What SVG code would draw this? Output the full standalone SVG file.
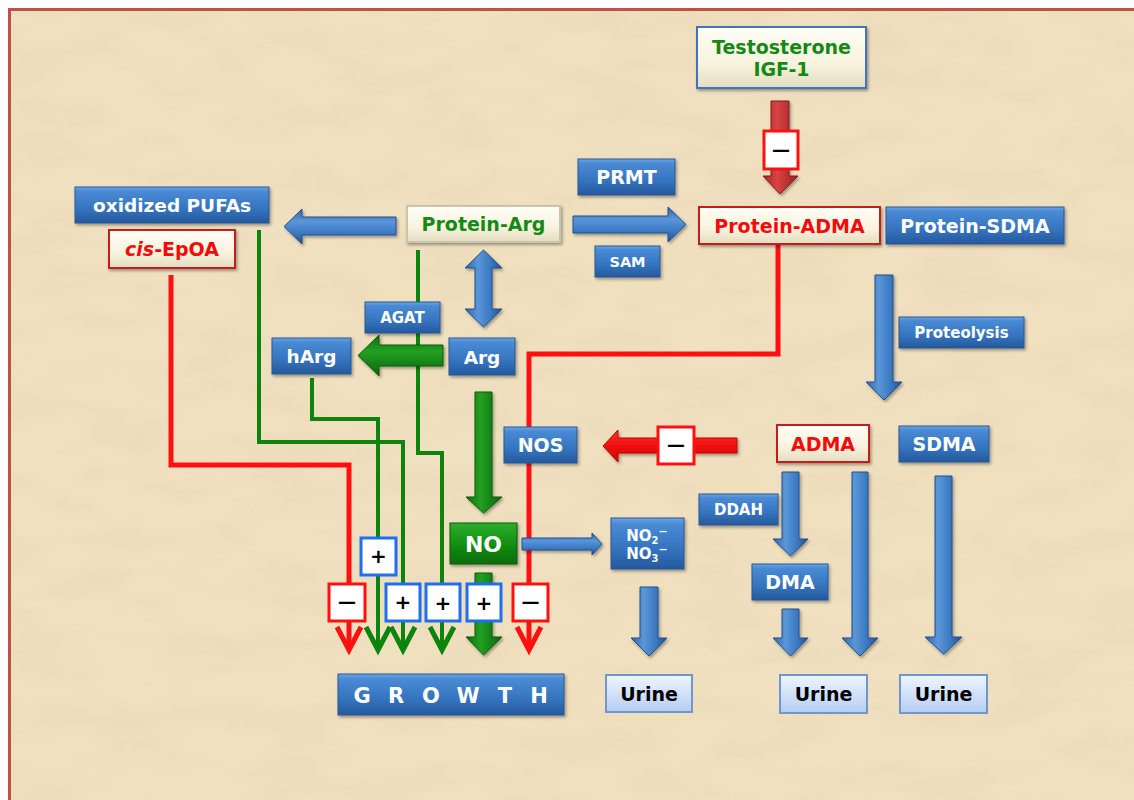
<svg xmlns="http://www.w3.org/2000/svg" width="1134" height="800" viewBox="0 0 1134 800">
<defs>
<linearGradient id="gBlue" x1="0" y1="0" x2="0" y2="1">
<stop offset="0" stop-color="#6aa6e6"/><stop offset="0.12" stop-color="#4a8ad4"/><stop offset="0.6" stop-color="#3574bf"/><stop offset="1" stop-color="#25599c"/>
</linearGradient>
<linearGradient id="gCream" x1="0" y1="0" x2="0" y2="1">
<stop offset="0" stop-color="#fffef6"/><stop offset="0.6" stop-color="#f8f3df"/><stop offset="1" stop-color="#e4dcc0"/>
</linearGradient>
<linearGradient id="gGreenBox" x1="0" y1="0" x2="0" y2="1">
<stop offset="0" stop-color="#2cae2c"/><stop offset="0.5" stop-color="#139013"/><stop offset="1" stop-color="#0a6c0a"/>
</linearGradient>
<linearGradient id="gUrine" x1="0" y1="0" x2="0" y2="1">
<stop offset="0" stop-color="#f0f5ff"/><stop offset="1" stop-color="#b5cdf2"/>
</linearGradient>
<linearGradient id="gArrV" x1="0" y1="0" x2="1" y2="0">
<stop offset="0" stop-color="#2f66ab"/><stop offset="0.35" stop-color="#5a96d8"/><stop offset="0.7" stop-color="#3a78c2"/><stop offset="1" stop-color="#234f8c"/>
</linearGradient>
<linearGradient id="gArrH" x1="0" y1="0" x2="0" y2="1">
<stop offset="0" stop-color="#2f66ab"/><stop offset="0.35" stop-color="#5a96d8"/><stop offset="0.7" stop-color="#3a78c2"/><stop offset="1" stop-color="#234f8c"/>
</linearGradient>
<linearGradient id="gGrV" x1="0" y1="0" x2="1" y2="0">
<stop offset="0" stop-color="#0b6e0b"/><stop offset="0.4" stop-color="#23a023"/><stop offset="1" stop-color="#0a640a"/>
</linearGradient>
<linearGradient id="gGrH" x1="0" y1="0" x2="0" y2="1">
<stop offset="0" stop-color="#0b6e0b"/><stop offset="0.4" stop-color="#23a023"/><stop offset="1" stop-color="#0a640a"/>
</linearGradient>
<linearGradient id="gRedV" x1="0" y1="0" x2="1" y2="0">
<stop offset="0" stop-color="#a82424"/><stop offset="0.4" stop-color="#d84444"/><stop offset="1" stop-color="#962020"/>
</linearGradient>
<linearGradient id="gRedH" x1="0" y1="0" x2="0" y2="1">
<stop offset="0" stop-color="#ff3030"/><stop offset="0.5" stop-color="#f01010"/><stop offset="1" stop-color="#c80808"/>
</linearGradient>
<filter id="sh" x="-10%" y="-15%" width="125%" height="150%">
<feDropShadow dx="1.5" dy="2" stdDeviation="1.5" flood-color="#000" flood-opacity="0.35"/>
</filter>
<filter id="paper" x="0" y="0" width="100%" height="100%">
<feTurbulence type="fractalNoise" baseFrequency="0.012 0.03" numOctaves="4" seed="7"/>
<feColorMatrix type="matrix" values="0 0 0 0 0.80  0 0 0 0 0.66  0 0 0 0 0.44  1.0 0 0 0 -0.3"/>
</filter>
<style>
.bb{fill:url(#gBlue);stroke:#2a5894;stroke-width:1;filter:url(#sh)}
.cb{fill:url(#gCream);filter:url(#sh)}
.ub{fill:url(#gUrine);stroke:#6f97cc;stroke-width:2}
.wt{font-family:"DejaVu Sans","Verdana",sans-serif;font-weight:bold;fill:#fff;text-anchor:middle}
.gt{font-family:"DejaVu Sans","Verdana",sans-serif;font-weight:bold;fill:#138a13;text-anchor:middle}
.rt{font-family:"DejaVu Sans","Verdana",sans-serif;font-weight:bold;fill:#f50a0a;text-anchor:middle}
.kt{font-family:"DejaVu Sans","Verdana",sans-serif;font-weight:bold;fill:#000;text-anchor:middle}
.gl{fill:none;stroke:#0c850c;stroke-width:4;stroke-linejoin:miter}
.rl{fill:none;stroke:#ff1010;stroke-width:5;stroke-linejoin:miter}
.gh{fill:none;stroke:#0c850c;stroke-width:5;stroke-linejoin:miter}
.rh{fill:none;stroke:#ff1010;stroke-width:5;stroke-linejoin:miter}
.av{fill:url(#gArrV);stroke:#22518f;stroke-width:1;filter:url(#sh)}
.ah{fill:url(#gArrH);stroke:#22518f;stroke-width:1;filter:url(#sh)}
.plus{fill:#fff;stroke:#1f6ff0;stroke-width:3}
.minus{fill:#fff;stroke:#ff1010;stroke-width:3}
.sg{font-family:"DejaVu Sans",sans-serif;font-weight:bold;fill:#000;text-anchor:middle;font-size:20px}
.sm{font-family:"DejaVu Sans",sans-serif;font-weight:bold;fill:#000;text-anchor:middle;font-size:18px}
</style>
</defs>

<rect x="0" y="0" width="1134" height="800" fill="#ffffff"/>
<rect x="8" y="8" width="1140" height="800" fill="#f0e1c1"/>
<rect x="8" y="8" width="1140" height="800" filter="url(#paper)" opacity="0.75"/>
<path d="M9.5,800 V9.5 H1134" fill="none" stroke="#c0504d" stroke-width="3"/>

<g id="connectors">
<polyline class="rl" points="171,275 171,465 349,465 349,648"/>
<polyline class="rl" points="778,245 778,354 529,354 529,648"/>
<polyline class="gl" points="259,230 259,442 403,442 403,648"/>
<polyline class="gl" points="312,378 312,419 378,419 378,648"/>
<polyline class="gl" points="418,250 418,453 442,453 442,648"/>
<polyline class="rh" points="337,627 349,650 361,627"/>
<polyline class="rh" points="517,627 529,650 541,627"/>
<polyline class="gh" points="366,627 378,650 390,627"/>
<polyline class="gh" points="391,627 403,650 415,627"/>
<polyline class="gh" points="430,627 442,650 454,627"/>

<path class="ah" d="M573,216 H668 V207 L686,224.5 L668,242 V233 H573 Z"/>
<path class="ah" d="M396,217 H302 V209 L284,226.5 L302,244 V235 H396 Z"/>
<path class="av" d="M483.5,250 L502,268 H492 V309 H502 L483.5,327 L465,309 H475 V268 H465 Z"/>
<path d="M443,345 H379 V335 L358,355.5 L379,376 V366 H443 Z" fill="url(#gGrH)" stroke="#0a5e0a" stroke-width="1" filter="url(#sh)"/>
<path d="M475,392 H492 V497 H502 L483.5,513 L466,497 H475 Z" fill="url(#gGrV)" stroke="#0a5e0a" stroke-width="1" filter="url(#sh)"/>
<path d="M475,573 H492 V637 H502 L483.5,655 L466,637 H475 Z" fill="url(#gGrV)" stroke="#0a5e0a" stroke-width="1" filter="url(#sh)"/>
<path d="M737,438 H618 V430 L603,446 L618,462 V453 H737 Z" fill="url(#gRedH)" stroke="#c80000" stroke-width="1" filter="url(#sh)"/>
<path d="M771,101 H789 V176 H798 L780,194 L763,176 H771 Z" fill="url(#gRedV)" stroke="#8a1a1a" stroke-width="1" filter="url(#sh)"/>
<path class="ah" d="M522,538 H592 V533 L602,544 L592,555 V550 H522 Z"/>
<path class="av" d="M640,587 H658 V638 H667 L649,656 L631,638 H640 Z"/>
<path class="av" d="M782,472 H799 V539 H808 L790.5,556 L773,539 H782 Z"/>
<path class="av" d="M782,609 H799 V638 H808 L790.5,656 L773,638 H782 Z"/>
<path class="av" d="M852,472 H868 V638 H878 L860,656 L842,638 H852 Z"/>
<path class="av" d="M935,476 H952 V637 H962 L943.5,654 L925,637 H935 Z"/>
<path class="av" d="M875,275 H893 V382 H902 L884,400 L866,382 H875 Z"/>

<g id="signs">
<rect class="minus" x="764" y="131" width="34" height="38"/>
<text class="sm" x="781" y="156">—</text>
<rect class="minus" x="658" y="427" width="36" height="37"/>
<text class="sm" x="676" y="451">—</text>
<rect class="minus" x="329" y="584" width="36" height="37"/>
<text class="sm" x="347" y="608">—</text>
<rect class="minus" x="513" y="584" width="35" height="37"/>
<text class="sm" x="530.5" y="608">—</text>
<rect class="plus" x="361" y="538" width="35" height="37"/>
<text class="sg" x="378.5" y="563">+</text>
<rect class="plus" x="386" y="584" width="34" height="37"/>
<text class="sg" x="403" y="609">+</text>
<rect class="plus" x="426" y="584" width="34" height="37"/>
<text class="sg" x="443" y="610">+</text>
<rect class="plus" x="467" y="584" width="34" height="37"/>
<text class="sg" x="484" y="610">+</text>
</g>
</g>

<g id="testosterone">
<rect class="cb" x="697" y="27" width="169" height="61" stroke="#3a74c4" stroke-width="2"/>
<text class="gt" x="781.5" y="54" font-size="19">Testosterone</text>
<text class="gt" x="781.5" y="76" font-size="19">IGF-1</text>
</g>
<g id="prmt"><rect class="bb" x="578" y="159" width="97" height="36"/><text class="wt" x="626.5" y="184" font-size="19">PRMT</text></g>
<g id="oxpufas"><rect class="bb" x="75" y="187" width="194" height="36"/><text class="wt" x="172" y="212" font-size="18.5">oxidized PUFAs</text></g>
<g id="cisepoa"><rect class="cb" x="109" y="230" width="126" height="38" stroke="#c81e1e" stroke-width="2"/><text class="rt" x="172" y="256" font-size="19"><tspan font-style="italic">cis</tspan>-EpOA</text></g>
<g id="proteinarg"><rect class="cb" x="407" y="206" width="153" height="36" stroke="#c9c4b0" stroke-width="2"/><text class="gt" x="483.5" y="231" font-size="19">Protein-Arg</text></g>
<g id="proteinadma"><rect class="cb" x="699" y="207" width="181" height="37" stroke="#c81e1e" stroke-width="2"/><text class="rt" x="789.5" y="232.5" font-size="19">Protein-ADMA</text></g>
<g id="proteinsdma"><rect class="bb" x="886" y="207" width="178" height="37"/><text class="wt" x="975" y="232.5" font-size="19">Protein-SDMA</text></g>
<g id="sam"><rect class="bb" x="595" y="246" width="65" height="31"/><text class="wt" x="627.5" y="267" font-size="14.5">SAM</text></g>
<g id="agat"><rect class="bb" x="365" y="302" width="75" height="31"/><text class="wt" x="402.5" y="323" font-size="15">AGAT</text></g>
<g id="harg"><rect class="bb" x="272" y="338" width="79" height="36"/><text class="wt" x="311.5" y="363" font-size="18.5">hArg</text></g>
<g id="arg"><rect class="bb" x="449" y="338" width="66" height="37"/><text class="wt" x="482" y="363.5" font-size="18.5">Arg</text></g>
<g id="proteolysis"><rect class="bb" x="899" y="317" width="125" height="31"/><text class="wt" x="961.5" y="338" font-size="15">Proteolysis</text></g>
<g id="nos"><rect class="bb" x="504" y="427" width="73" height="36"/><text class="wt" x="540.5" y="452" font-size="19">NOS</text></g>
<g id="adma"><rect class="cb" x="777" y="425" width="92" height="37" stroke="#c81e1e" stroke-width="2"/><text class="rt" x="823" y="450.5" font-size="19">ADMA</text></g>
<g id="sdma"><rect class="bb" x="899" y="426" width="90" height="36"/><text class="wt" x="944" y="451" font-size="19">SDMA</text></g>
<g id="ddah"><rect class="bb" x="699" y="494" width="79" height="31"/><text class="wt" x="738.5" y="515" font-size="15">DDAH</text></g>
<g id="no"><rect x="450" y="523" width="67" height="41" fill="url(#gGreenBox)" stroke="#0a5a0a" stroke-width="1" filter="url(#sh)"/><text class="wt" x="483.5" y="551.5" font-size="22">NO</text></g>
<g id="nox"><rect class="bb" x="611" y="518" width="73" height="51"/>
<text class="wt" x="647" y="541" font-size="15">NO<tspan font-size="10" dy="3">2</tspan><tspan font-size="11" dy="-9">−</tspan></text>
<text class="wt" x="647" y="559" font-size="15">NO<tspan font-size="10" dy="3">3</tspan><tspan font-size="11" dy="-9">−</tspan></text>
</g>
<g id="dma"><rect class="bb" x="752" y="564" width="76" height="36"/><text class="wt" x="790" y="589" font-size="19">DMA</text></g>
<g id="growth"><rect class="bb" x="338" y="674" width="226" height="41"/>
<text class="wt" y="703" font-size="21"><tspan x="362">G</tspan><tspan x="396">R</tspan><tspan x="431">O</tspan><tspan x="468">W</tspan><tspan x="505">T</tspan><tspan x="539">H</tspan></text>
</g>
<g id="urine1"><rect class="ub" x="606" y="675" width="86" height="37"/><text class="kt" x="649" y="700.5" font-size="19">Urine</text></g>
<g id="urine2"><rect class="ub" x="780" y="675" width="87" height="38"/><text class="kt" x="823.5" y="701" font-size="19">Urine</text></g>
<g id="urine3"><rect class="ub" x="900" y="675" width="87" height="38"/><text class="kt" x="943.5" y="701" font-size="19">Urine</text></g>
</svg>
